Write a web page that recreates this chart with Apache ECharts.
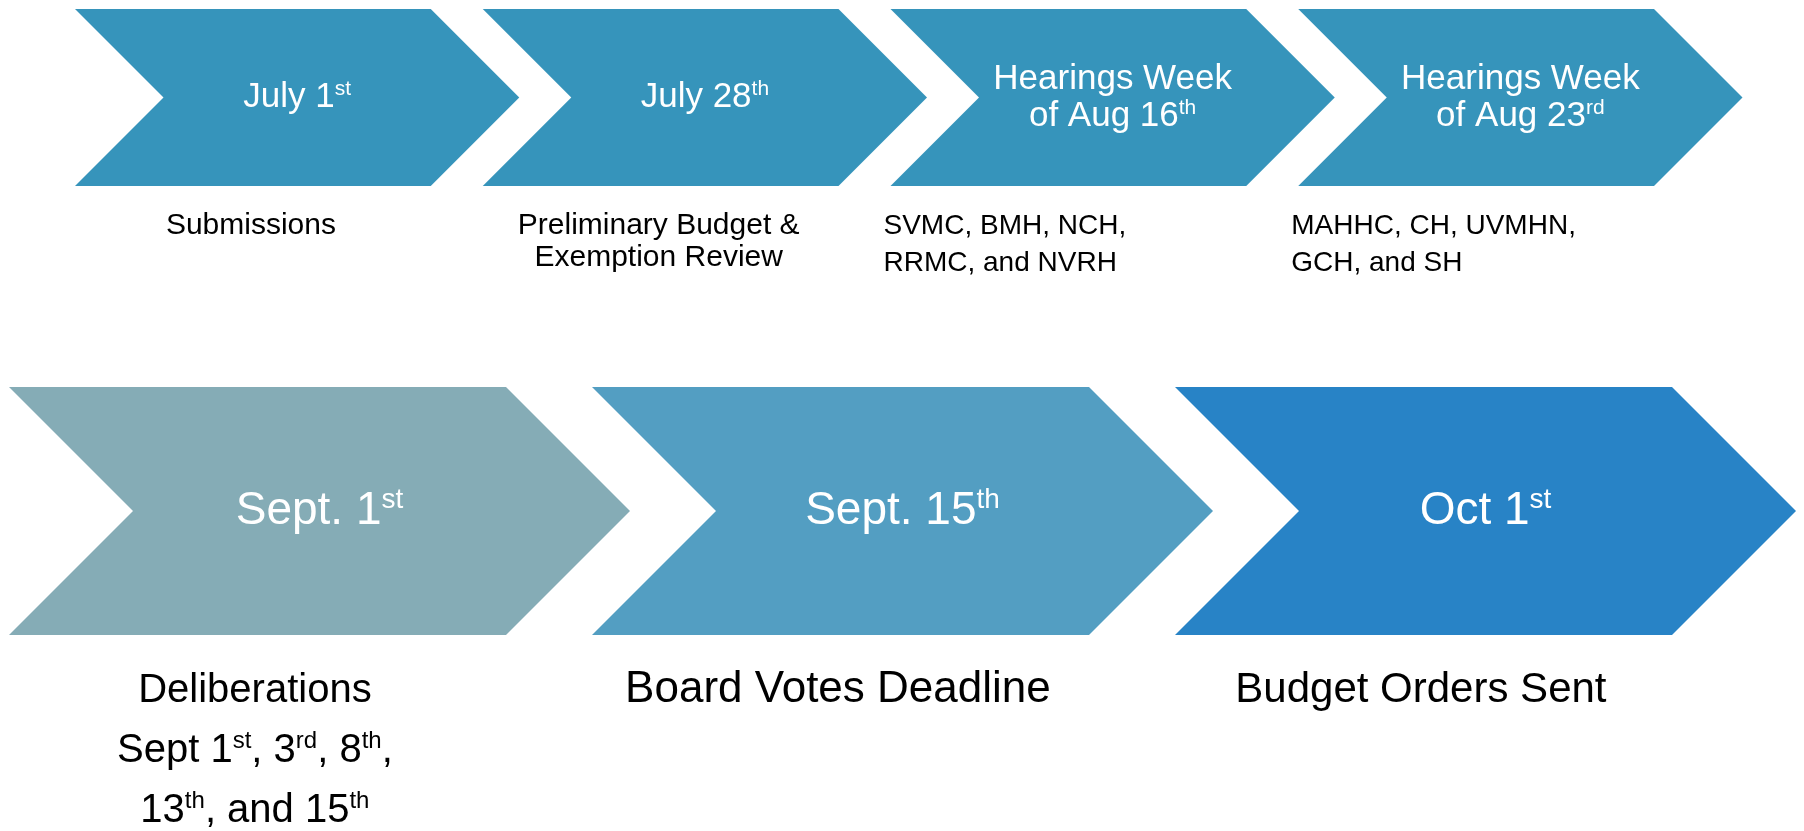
<!DOCTYPE html>
<html>
<head>
<meta charset="utf-8">
<title>Budget review timeline</title>
<script src="https://cdn.jsdelivr.net/npm/echarts@6/dist/echarts.min.js"></script>
<style>
  html, body { margin: 0; padding: 0; background: #ffffff; }
  #chart { width: 1804px; height: 831px; }
</style>
</head>
<body>
<div id="chart"></div>
<script>
// top row of the timeline
const topDates = ['July 1st', 'July 28th', 'Hearings Week\nof Aug 16th', 'Hearings Week\nof Aug 23rd'];
const topNotes = [
  'Submissions',
  'Preliminary Budget &\nExemption Review',
  'SVMC, BMH, NCH,\nRRMC, and NVRH',
  'MAHHC, CH, UVMHN,\nGCH, and SH'
];
// bottom row
const bottomDates = ['Sept. 1st', 'Sept. 15th', 'Oct 1st'];
const bottomNotes = [
  'Deliberations\nSept 1st, 3rd, 8th,\n13th, and 15th',
  'Board Votes Deadline',
  'Budget Orders Sent'
];

const FONT = '"Liberation Sans", Arial, sans-serif';

// look of each row (kept apart from the data above)
const topLook = {
  colors: ['#3694BB', '#3694BB', '#3694BB', '#3694BB'],
  gap: 52,
  titleSize: 35, titleLine: 37,
  noteSizes: [30, 30, 28, 28],
  noteLines: [37, 32, 37, 37],
  noteAlign: ['center', 'center', 'left', 'left'],
  noteBaseline: 50
};
const bottomLook = {
  colors: ['#85ACB6', '#539EC2', '#2883C6'],
  gap: 86,
  titleSize: 46, titleLine: 50,
  noteSizes: [40, 44, 42],
  noteLines: [60, 60, 60],
  noteAlign: ['center', 'center', 'center'],
  noteBaseline: 70
};

// "1st" -> "1{s|st}" so the suffix is drawn as a superscript
function ordinals(str) {
  return str.replace(/(\d)(st|nd|rd|th)\b/g, '$1{s|$2}');
}

function textEl(str, x, y, size, lineHeight, color, align, vAlign) {
  return {
    type: 'text',
    style: {
      text: ordinals(str),
      x: x, y: y,
      fontSize: size,
      fontFamily: FONT,
      lineHeight: lineHeight,
      fill: color,
      align: align,
      verticalAlign: vAlign,
      rich: {
        // top-aligned box; its height sets how far the suffix is raised
        s: {
          fontSize: Math.round(size * 0.6),
          fontFamily: FONT,
          height: lineHeight - size * 0.46,
          verticalAlign: 'top',
          fill: color
        }
      }
    }
  };
}

function chevrons(dates, notes, look) {
  return function (params, api) {
    const i = api.value(0);
    const tl = api.coord([i, 1]);
    const br = api.coord([i + 1, 0]);
    const top = tl[1], bottom = br[1], mid = (top + bottom) / 2;
    const depth = (bottom - top) / 2;
    const left = tl[0], right = br[0] - look.gap;
    const width = right + depth - left;

    const k = params.dataIndex;
    const size = look.noteSizes[k], lh = look.noteLines[k];
    const noteTop = bottom + look.noteBaseline - lh / 2 - size * 0.35;
    const noteX = look.noteAlign[k] === 'left' ? left - 7 : left + width * 0.396;

    return {
      type: 'group',
      children: [
        {
          type: 'polygon',
          shape: {
            points: [
              [left, top], [right, top], [right + depth, mid],
              [right, bottom], [left, bottom], [left + depth, mid]
            ]
          },
          style: { fill: look.colors[k] }
        },
        textEl(dates[k], left + width / 2, mid, look.titleSize, look.titleLine, '#ffffff', 'center', 'middle'),
        textEl(notes[k], noteX, noteTop, size, lh, '#000000', look.noteAlign[k], 'top')
      ]
    };
  };
}

const chart = echarts.init(document.getElementById('chart'), null, { renderer: 'canvas' });
chart.setOption({
  backgroundColor: '#ffffff',
  animation: false,
  grid: [
    { left: 75, top: 9, width: 1631, height: 177 },
    { left: 9, top: 387, width: 1749, height: 248 }
  ],
  xAxis: [
    { gridIndex: 0, type: 'value', min: 0, max: 4, show: false },
    { gridIndex: 1, type: 'value', min: 0, max: 3, show: false }
  ],
  yAxis: [
    { gridIndex: 0, type: 'value', min: 0, max: 1, show: false },
    { gridIndex: 1, type: 'value', min: 0, max: 1, show: false }
  ],
  series: [
    {
      type: 'custom',
      xAxisIndex: 0, yAxisIndex: 0,
      clip: false,
      encode: { x: 0, y: 1 },
      data: topDates.map((d, i) => [i, 0]),
      renderItem: chevrons(topDates, topNotes, topLook)
    },
    {
      type: 'custom',
      xAxisIndex: 1, yAxisIndex: 1,
      clip: false,
      encode: { x: 0, y: 1 },
      data: bottomDates.map((d, i) => [i, 0]),
      renderItem: chevrons(bottomDates, bottomNotes, bottomLook)
    }
  ]
});
</script>
</body>
</html>
